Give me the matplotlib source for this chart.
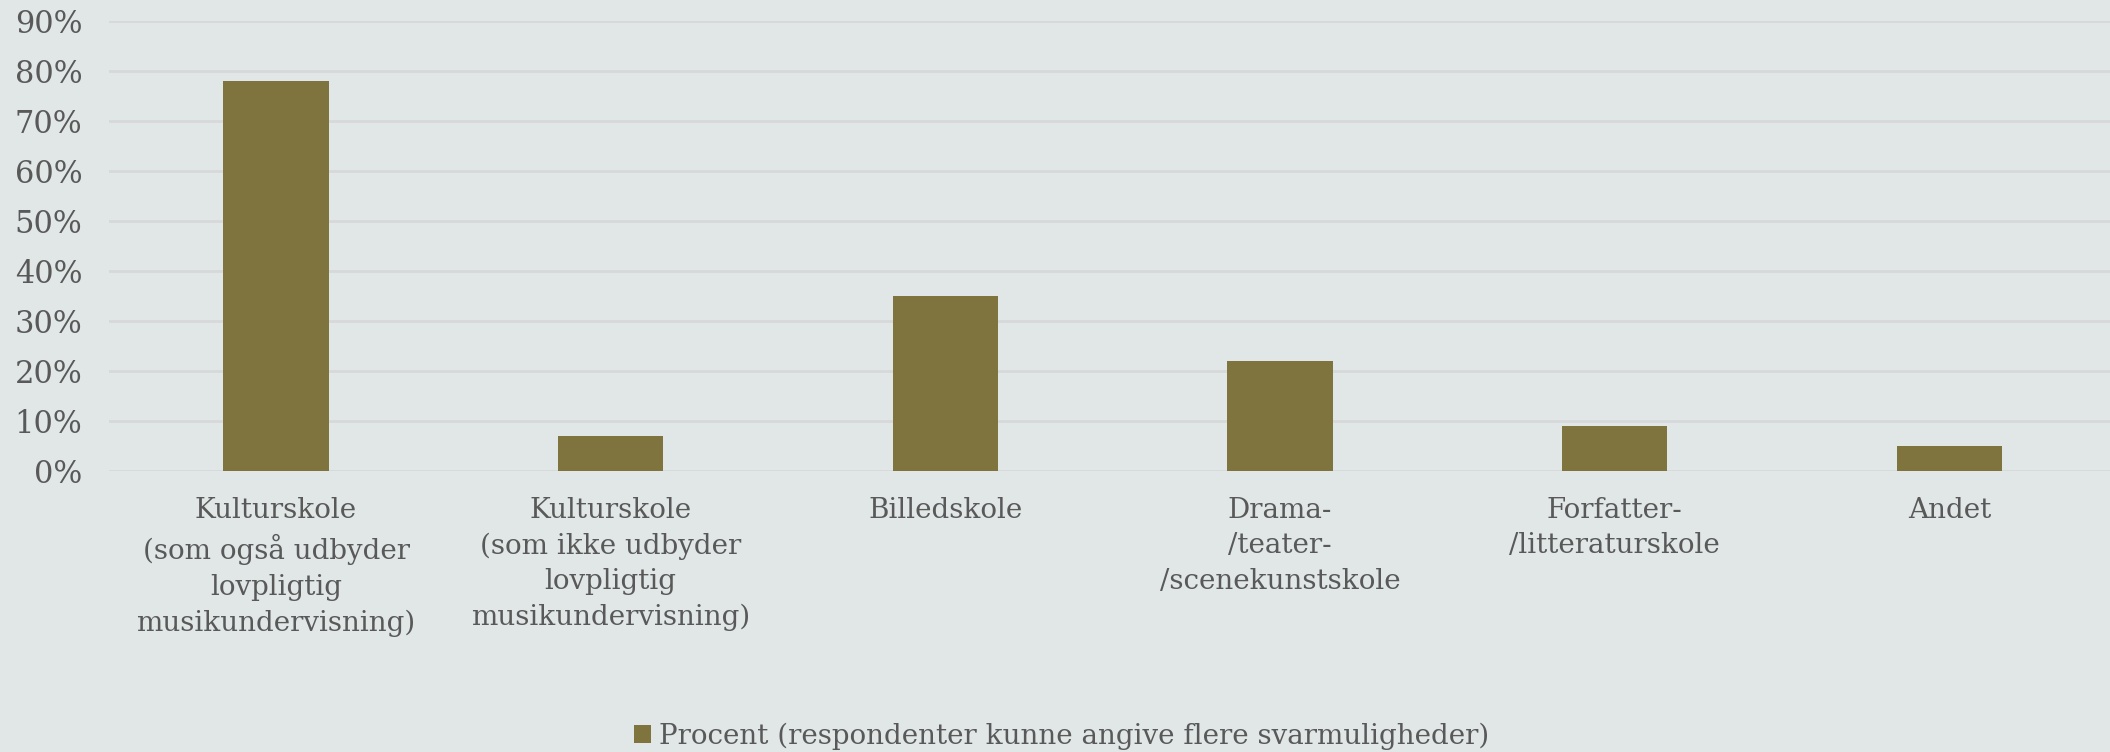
import matplotlib.pyplot as plt
import numpy as np

# data
categories = [
    "Kulturskole\n(som også udbyder\nlovpligtig\nmusikundervisning)",
    "Kulturskole\n(som ikke udbyder\nlovpligtig\nmusikundervisning)",
    "Billedskole",
    "Drama-\n/teater-\n/scenekunstskole",
    "Forfatter-\n/litteraturskole",
    "Andet",
]
values = [78, 7, 35, 22, 9, 5]
series_name = "Procent (respondenter kunne angive flere svarmuligheder)"
yticks = [0, 10, 20, 30, 40, 50, 60, 70, 80, 90]

bg = "#E1E7E7"
bar_col = "#80743E"
txt = "#595959"
grid_col = "#D6D8DA"

plt.rcParams['font.family'] = ['DejaVu Serif']

fig = plt.figure(figsize=(21.1, 7.52), dpi=100, facecolor=bg)
ax = fig.add_axes([108.7 / 2110, 1 - 470.7 / 752, 2008 / 2110, 450 / 752])
ax.set_facecolor(bg)

x = np.arange(len(categories))
ax.bar(x, values, width=0.315, color=bar_col, label=series_name, zorder=3)

ax.set_xlim(-0.5, len(categories) - 0.5)
ax.set_ylim(0, 90)
ax.set_yticks(yticks)
ax.set_yticklabels([f"{v}%" for v in yticks], fontsize=22, color=txt)
ax.set_xticks(x)
ax.set_xticklabels(categories, fontsize=20, color=txt, linespacing=1.4)
ax.tick_params(axis='both', length=0)
ax.tick_params(axis='y', pad=19)
ax.tick_params(axis='x', pad=19)

ax.yaxis.grid(True, color=grid_col, linewidth=2, zorder=0)
ax.set_axisbelow(True)
for s in ax.spines.values():
    s.set_visible(False)

fig.legend(loc='center', bbox_to_anchor=(1062 / 2110, 1 - 736 / 752), frameon=False,
           fontsize=20, labelcolor=txt, handlelength=0.6, handleheight=0.6,
           handletextpad=0.3)

fig.savefig("out.png", dpi=100, facecolor=bg)
